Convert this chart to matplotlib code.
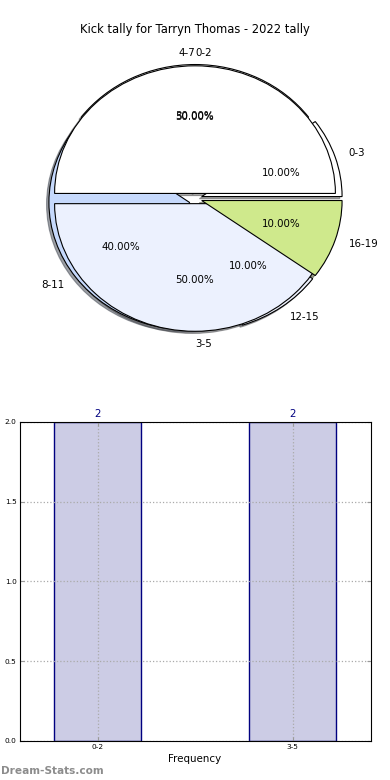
import numpy as np
import matplotlib
matplotlib.use("Agg")
import matplotlib.pyplot as plt

# this player's tally (drawn on top)
ranges = ['0-2', '3-5']
counts = [2, 2]

# earlier tally left on the same axes
old_ranges = ['0-3', '4-7', '8-11', '12-15', '16-19']
old_counts = [1, 3, 4, 1, 1]

title = 'Kick tally for Tarryn Thomas - 2022 tally'

fig = plt.figure(figsize=(3.9, 7.8), dpi=100)
fig.subplots_adjust(left=0.05, right=0.95, top=0.95, bottom=0.05, hspace=0.2)

ax1 = fig.add_subplot(2, 1, 1)
edge = {'edgecolor': 'black', 'linewidth': 0.8}
shad = {'ox': -0.012, 'oy': -0.012}
old_cols = ['white', 'white', '#c6d9fc', '#edf1fd', '#cfe98c']
w_old, t_old, p_old = ax1.pie(old_counts, labels=old_ranges, colors=old_cols,
                              explode=[0.05] * 5, autopct='%.2f%%', shadow=shad,
                              wedgeprops=edge, textprops={'fontsize': 7.4})
w_new, t_new, p_new = ax1.pie(counts, labels=ranges, colors=['white', '#ecf1fe'],
                              explode=[0.04, 0.04], autopct='%.2f%%', shadow=shad,
                              wedgeprops=edge, textprops={'fontsize': 7.4})
for w in w_new:
    w.set_zorder(2)
w_old[4].set_zorder(2.5)
t_old[1].set_ha('right')
t_old[1].set_y(t_new[0].get_position()[1])
t_new[0].set_ha('left')
ax1.set_aspect('auto')
ax1.set_xlim(-1.25, 1.25)
ax1.set_ylim(-1.25, 1.25)
ax1.set_title(title, fontsize=8.3, pad=4)

ax2 = fig.add_subplot(2, 1, 2)
x = np.arange(len(ranges))
bars = ax2.bar(x, counts, width=0.45, facecolor=(0, 0, 0.5, 0.2),
               edgecolor='navy', linewidth=1)
ax2.bar_label(bars, padding=2, color='navy', fontsize=7.4)
ax2.set_xlim(-0.4, 1.4)
ax2.set_ylim(0, 2)
ax2.set_xticks(x)
ax2.set_xticklabels(ranges)
ax2.set_yticks([0, 0.5, 1.0, 1.5, 2.0])
ax2.set_yticklabels(['0.0', '0.5', '1.0', '1.5', '2.0'])
ax2.tick_params(labelsize=5.3, direction='in', top=True, right=True,
                length=3, color='#999999', pad=2)
ax2.grid(True, linestyle=':', color='#aaaaaa', linewidth=0.9)
ax2.set_xlabel('Frequency', fontsize=7.4, labelpad=3)

fig.text(0.003, 0.012, 'Dream-Stats.com', color='#8c8c8c', fontsize=7.6,
         fontweight='bold', ha='left', va='center')

fig.savefig('out.png', dpi=100)
